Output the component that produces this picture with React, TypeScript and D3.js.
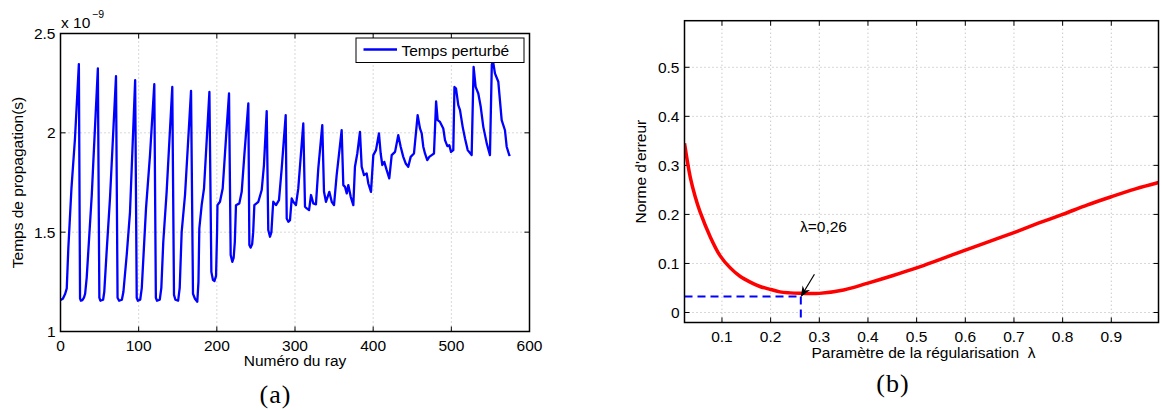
import React from "react";
import * as d3 from "d3";

// ---------- Data: panel (a) ----------
const rayIdx: number[] = [
  0, 3, 6, 8, 10, 14, 18.5, 23.5,
  25, 26, 28, 30, 31.5, 33.5, 40, 42, 47.8,
  49.7, 51, 54.5, 56, 59, 63.3, 71,
  73, 75, 78.5, 80.5, 84.7, 88.9, 95.5,
  97.5, 99, 102, 104, 109.4, 114.5, 120,
  122, 123.5, 127, 129, 131.5, 135.8, 143,
  145.2, 147, 150.5, 152.5, 155, 159.3, 167,
  169.5, 172, 175, 176.5, 177.6, 180.6, 183.6, 190.5,
  193, 195, 197, 199, 200.3, 200.8, 204, 207.5, 211.7, 215.6,
  217.7, 219.8, 221.5, 223, 224.5, 228.8, 231.8, 235.2, 240.3,
  241.6, 243.3, 245.2, 246.5, 248, 253.1, 257.4, 260.3, 263.8,
  265.8, 268, 269.8, 271.3, 272.2, 275.7, 279.5, 283, 288.1,
  289.4, 291.5, 293.6, 295.8, 297.8, 301.2, 304.2, 310.6,
  312.8, 315, 318, 320.5, 323.4, 326.8, 329.8, 334.9,
  337.1, 339.6, 343.9, 347, 349.9, 353.3, 359.7,
  361.8, 364, 366.2, 368.2, 371.3, 374.6, 376.7, 379.7, 383.1,
  385.3, 388.3, 391.7, 393.8, 397.2, 400.2, 403.6, 407.4,
  409.6, 411.7, 414.2, 417.3, 420.6, 423.7, 428, 432.1,
  435.2, 438.5, 441.6, 444.9, 448, 452.2, 456.9,
  459.9, 462.1, 464.1, 466.3, 469.2, 471.8, 474.9, 477.8, 480.5,
  482.5, 485.5, 489.7, 491.9, 494.9, 497.4, 499.6, 502.5, 504,
  506, 508.9, 511.1, 514.5, 517.5, 520.9, 526, 528.5,
  531.1, 534.5, 537.6, 540.9, 545.3, 549.4, 551.8, 553.5, 555.8, 560.1, 564.4, 568.6, 570.8, 574.1, 575.5,
];
const tempsPerturbe: number[] = [
  1.158, 1.165, 1.19, 1.217, 1.418, 1.72, 1.97, 2.346,
  1.167, 1.155, 1.158, 1.17, 1.19, 1.27, 1.687, 1.854, 2.324,
  1.17, 1.155, 1.16, 1.2, 1.4, 1.67, 2.285,
  1.17, 1.155, 1.16, 1.2, 1.385, 1.6, 2.265,
  1.17, 1.155, 1.16, 1.22, 1.62, 1.888, 2.245,
  1.17, 1.155, 1.16, 1.22, 1.452, 1.703, 2.231,
  1.184, 1.16, 1.155, 1.22, 1.5, 1.687, 2.211,
  1.19, 1.165, 1.15, 1.25, 1.519, 1.636, 1.72, 2.206,
  1.3, 1.26, 1.254, 1.28, 1.5, 1.636, 1.653, 1.72, 1.972, 2.198,
  1.385, 1.351, 1.37, 1.45, 1.636, 1.645, 1.703, 1.888, 2.148,
  1.435, 1.422, 1.44, 1.5, 1.636, 1.653, 1.712, 1.838, 2.109,
  1.511, 1.477, 1.5, 1.6, 1.653, 1.636, 1.661, 1.821, 2.089,
  1.569, 1.552, 1.56, 1.67, 1.653, 1.636, 1.72, 2.047,
  1.628, 1.62, 1.611, 1.687, 1.645, 1.64, 1.821, 2.039,
  1.703, 1.653, 1.703, 1.653, 1.636, 1.787, 2.013,
  1.737, 1.728, 1.695, 1.737, 1.678, 1.636, 1.829, 1.896, 2.005,
  1.829, 1.787, 1.796, 1.745, 1.703, 1.888, 1.913, 1.997,
  1.896, 1.838, 1.854, 1.812, 1.771, 1.888, 1.904, 1.988,
  1.93, 1.879, 1.846, 1.829, 1.879, 1.896, 2.089,
  2.022, 1.997, 1.93, 1.896, 1.863, 1.879, 1.888, 1.896, 2.158,
  2.064, 2.055, 2.022, 1.963, 1.933, 1.938, 1.904, 1.913, 2.231,
  2.223, 2.139, 2.114, 2.03, 1.972, 1.913, 1.888, 2.332,
  2.231, 2.198, 2.131, 2.03, 1.947, 1.888, 2.345, 2.357, 2.299, 2.257, 2.064, 2.013, 1.93, 1.888, 1.891,
];
const aXTicks: number[] = [0, 100, 200, 300, 400, 500, 600];
const aYTicks: number[] = [1, 1.5, 2, 2.5];

// ---------- Data: panel (b) ----------
const lambdaVals: number[] = [
  0.023, 0.035, 0.045, 0.055, 0.076, 0.096, 0.117, 0.137, 0.158, 0.178, 0.2, 0.219, 0.24, 0.26, 0.28, 0.3,
  0.35, 0.4, 0.45, 0.5, 0.55, 0.6, 0.65, 0.7, 0.75, 0.8, 0.85, 0.9, 0.95, 0.997,
];
const normeErreur: number[] = [
  0.345, 0.275, 0.236, 0.205, 0.154, 0.116, 0.091, 0.074, 0.062, 0.053, 0.047, 0.042, 0.04, 0.039, 0.0385, 0.039,
  0.046, 0.06, 0.075, 0.091, 0.109, 0.127, 0.145, 0.163, 0.182, 0.2, 0.219, 0.236, 0.252, 0.265,
];
const bXTicks: number[] = [0.1, 0.2, 0.3, 0.4, 0.5, 0.6, 0.7, 0.8, 0.9];
const bYTicks: number[] = [0, 0.1, 0.2, 0.3, 0.4, 0.5];
const lambdaOpt = 0.262;
const normeOpt = 0.0327;

const FONT = "'Liberation Sans', Arial, Helvetica, sans-serif";
const SERIF = "'Liberation Serif', 'DejaVu Serif', serif";
const TICK_FS = 15.5;
const GRID = "#b0b0b0";

export default function App() {
  const ax = d3.scaleLinear().domain([0, 600]).range([60.5, 529.5]);
  const ay = d3.scaleLinear().domain([1, 2.5]).range([331.5, 33.5]);
  const bx = d3.scaleLinear().domain([0.023, 0.997]).range([684.5, 1158.5]);
  const by = d3.scaleLinear().domain([-0.0204, 0.595]).range([322.5, 20.7]);

  const aLine = d3
    .line<number>()
    .x((_, i) => ax(rayIdx[i]))
    .y((d) => ay(d));
  const bLine = d3
    .line<number>()
    .x((_, i) => bx(lambdaVals[i]))
    .y((d) => by(d))
    .curve(d3.curveCatmullRom.alpha(0.5));

  const aL = ax(0), aR = ax(600), aT = ay(2.5), aB = ay(1);
  const bL = bx(0.023), bR = bx(0.997), bT = by(0.595), bB = by(-0.0204);
  const TL = 5;

  return (
    <svg
      width={1161}
      height={410}
      style={{ position: "absolute", left: 0, top: 0, background: "#fff" }}
      fontFamily={FONT}
    >
      <defs>
        <clipPath id="clipA">
          <rect x={aL} y={aT} width={aR - aL} height={aB - aT} />
        </clipPath>
        <clipPath id="clipB">
          <rect x={bL} y={bT} width={bR - bL} height={bB - bT} />
        </clipPath>
        <marker id="arrowHead" viewBox="0 0 10 10" refX="9" refY="5" markerWidth="9" markerHeight="9" orient="auto">
          <path d="M0,1 L10,5 L0,9 L3,5 Z" fill="#000" />
        </marker>
      </defs>

      {/* ===== Panel (a) ===== */}
      <g>
        {aXTicks.filter((t) => t > 0 && t < 600).map((t) => (
          <line key={"agx" + t} x1={ax(t)} x2={ax(t)} y1={aT} y2={aB} stroke={GRID} strokeWidth={1} strokeDasharray="1,3" />
        ))}
        {aYTicks.filter((t) => t > 1 && t < 2.5).map((t) => (
          <line key={"agy" + t} x1={aL} x2={aR} y1={ay(t)} y2={ay(t)} stroke={GRID} strokeWidth={1} strokeDasharray="1,3" />
        ))}
        {aXTicks.map((t) => (
          <g key={"atx" + t}>
            <line x1={ax(t)} x2={ax(t)} y1={aB} y2={aB - TL} stroke="#000" />
            <line x1={ax(t)} x2={ax(t)} y1={aT} y2={aT + TL} stroke="#000" />
            <text x={ax(t)} y={aB + 19} textAnchor="middle" fontSize={TICK_FS} fill="#000">
              {t}
            </text>
          </g>
        ))}
        {aYTicks.map((t) => (
          <g key={"aty" + t}>
            <line x1={aL} x2={aL + TL} y1={ay(t)} y2={ay(t)} stroke="#000" />
            <line x1={aR} x2={aR - TL} y1={ay(t)} y2={ay(t)} stroke="#000" />
            <text x={aL - 5} y={ay(t) + 5.5} textAnchor="end" fontSize={TICK_FS} fill="#000">
              {t}
            </text>
          </g>
        ))}
        <path
          d={aLine(tempsPerturbe) || ""}
          fill="none"
          stroke="#0000ff"
          strokeWidth={2.3}
          strokeLinejoin="round"
          clipPath="url(#clipA)"
        />
        <rect x={aL} y={aT} width={aR - aL} height={aB - aT} fill="none" stroke="#000" strokeWidth={1.5} />
        <text x={61} y={28} fontSize={TICK_FS} fill="#000">
          x 10
        </text>
        <text x={92} y={18} fontSize={10.5} fill="#000">
          −9
        </text>
        {/* legend */}
        <rect x={356} y={38} width={168} height={24.5} fill="#fff" stroke="#000" strokeWidth={1} />
        <line x1={363.5} x2={397} y1={49.5} y2={49.5} stroke="#0000ff" strokeWidth={2.3} />
        <text x={401.5} y={55.5} fontSize={15.5} fill="#000">
          Temps perturbé
        </text>
        <text x={(aL + aR) / 2} y={366} textAnchor="middle" fontSize={15.5} fill="#000">
          Numéro du ray
        </text>
        <text
          transform={`translate(23,${(aT + aB) / 2}) rotate(-90)`}
          textAnchor="middle"
          fontSize={15.5}
          fill="#000"
        >
          Temps de propagation(s)
        </text>
        <text x={275.5} y={403} textAnchor="middle" fontSize={26} fontFamily={SERIF} fill="#000" letterSpacing={1}>
          (a)
        </text>
      </g>

      {/* ===== Panel (b) ===== */}
      <g>
        {bXTicks.map((t) => (
          <line key={"bgx" + t} x1={bx(t)} x2={bx(t)} y1={bT} y2={bB} stroke={GRID} strokeWidth={1} strokeDasharray="1,3" />
        ))}
        {bYTicks.map((t) => (
          <line key={"bgy" + t} x1={bL} x2={bR} y1={by(t)} y2={by(t)} stroke={GRID} strokeWidth={1} strokeDasharray="1,3" />
        ))}
        {bXTicks.map((t) => (
          <g key={"btx" + t}>
            <line x1={bx(t)} x2={bx(t)} y1={bB} y2={bB - TL} stroke="#000" />
            <line x1={bx(t)} x2={bx(t)} y1={bT} y2={bT + TL} stroke="#000" />
            <text x={bx(t)} y={bB + 19} textAnchor="middle" fontSize={TICK_FS} fill="#000">
              {t}
            </text>
          </g>
        ))}
        {bYTicks.map((t) => (
          <g key={"bty" + t}>
            <line x1={bL} x2={bL + TL} y1={by(t)} y2={by(t)} stroke="#000" />
            <line x1={bR} x2={bR - TL} y1={by(t)} y2={by(t)} stroke="#000" />
            <text x={bL - 5} y={by(t) + 5.5} textAnchor="end" fontSize={TICK_FS} fill="#000">
              {t}
            </text>
          </g>
        ))}
        <g clipPath="url(#clipB)">
          <line x1={bL} x2={bx(lambdaOpt)} y1={by(normeOpt)} y2={by(normeOpt)} stroke="#0000ff" strokeWidth={2} strokeDasharray="8,5" />
          <line x1={bx(lambdaOpt)} x2={bx(lambdaOpt)} y1={by(normeOpt)} y2={bB} stroke="#0000ff" strokeWidth={2} strokeDasharray="8,5" />
        </g>
        <path
          d={bLine(normeErreur) || ""}
          fill="none"
          stroke="#ff0000"
          strokeWidth={3.5}
          strokeLinejoin="round"
          clipPath="url(#clipB)"
        />
        <line
          x1={bx(0.29)}
          y1={by(0.078)}
          x2={bx(lambdaOpt) + 0.5}
          y2={by(normeOpt) - 0.5}
          stroke="#000"
          strokeWidth={1.2}
          markerEnd="url(#arrowHead)"
        />
        <text x={800} y={232} fontSize={15.5} fill="#000">
          λ=0,26
        </text>
        <rect x={bL} y={bT} width={bR - bL} height={bB - bT} fill="none" stroke="#000" strokeWidth={1.5} />
        <text x={(bL + bR) / 2 + 2} y={358} textAnchor="middle" fontSize={15.5} fill="#000" style={{ whiteSpace: "pre" }}>
          {"Paramètre de la régularisation  λ"}
        </text>
        <text
          transform={`translate(646,${(bT + bB) / 2}) rotate(-90)`}
          textAnchor="middle"
          fontSize={15.5}
          fill="#000"
        >
          Norme d'erreur
        </text>
        <text x={893} y={392} textAnchor="middle" fontSize={26} fontFamily={SERIF} fill="#000" letterSpacing={1}>
          (b)
        </text>
      </g>
    </svg>
  );
}
